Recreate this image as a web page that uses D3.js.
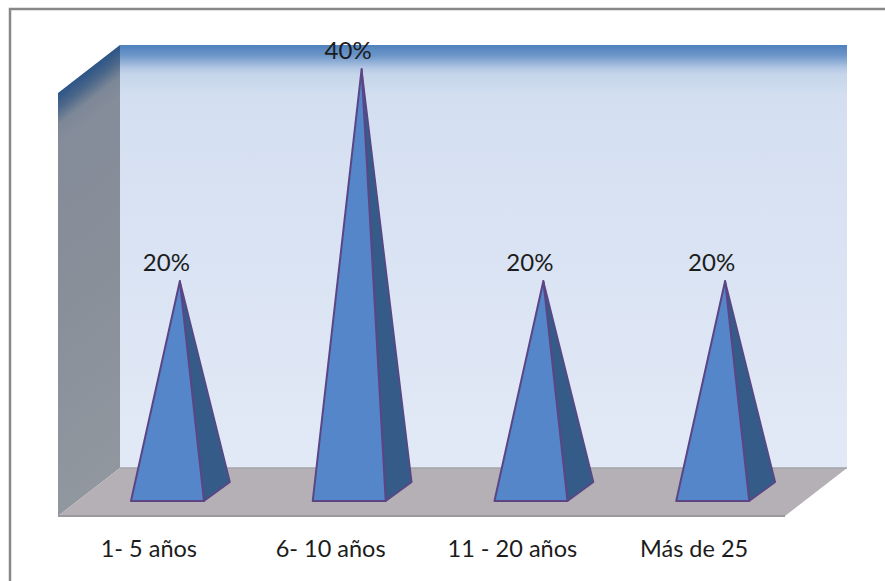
<!DOCTYPE html>
<html><head><meta charset="utf-8">
<script src="https://cdnjs.cloudflare.com/ajax/libs/d3/7.8.5/d3.min.js"></script>
<style>html,body{margin:0;padding:0;background:#fff}svg{display:block}text{font-family:Lato,"Open Sans",sans-serif;fill:#1c1c1c}</style>
</head><body><svg id="c" width="885" height="581"></svg>
<script>
const categories = ["1- 5 años","6- 10 años","11 - 20 años","Más de 25"];
const values = [20,40,20,20];
const valueLabels = ["20%","40%","20%","20%"];

const svg = d3.select("#c");
const W=885,H=581;
const fx0=58, fx1=785, fy=516, dx=62, dy=48;
const x = d3.scaleBand().domain(categories).range([fx0,fx1]);
const y = d3.scaleLinear().domain([0,40]).range([493,69]);
const baseW=73, baseOff=15, baseDx=26, baseDy=19;

const defs = svg.append("defs");
function grad(id,x1,y1,x2,y2,stops){
  const g=defs.append("linearGradient").attr("id",id).attr("gradientUnits","userSpaceOnUse")
    .attr("x1",x1).attr("y1",y1).attr("x2",x2).attr("y2",y2);
  stops.forEach(s=>g.append("stop").attr("offset",s[0]).attr("stop-color",s[1]));
}
grad("back",0,fy-dy-423,0,fy-dy,[[0,"#4f81bd"],[0.025,"#6d96c9"],[0.055,"#b4c8e4"],[0.07,"#c6d5ea"],[0.12,"#d3dff1"],[0.3,"#d7e1f2"],[1,"#e2e9f6"]]);
grad("left",58,93,262.6,357,[[0,"#2c5587"],[0.035,"#4a6689"],[0.075,"#7c8797"],[0.12,"#858c9a"],[0.5,"#888f99"],[1,"#90979f"]]);

const line=d3.line();
svg.append("rect").attr("x",10).attr("y",9).attr("width",W).attr("height",H)
  .attr("fill","#fff").attr("stroke","#888888").attr("stroke-width",2.5);

const backTop=45;
svg.append("path").attr("d",line([[fx0+dx,backTop],[fx1+dx,backTop],[fx1+dx,fy-dy],[fx0+dx,fy-dy]])+"Z").attr("fill","url(#back)");
svg.append("path").attr("d",line([[fx0,backTop+dy],[fx0+dx,backTop],[fx0+dx,fy-dy],[fx0,fy]])+"Z").attr("fill","url(#left)");
svg.append("path").attr("d",line([[fx0,fy],[fx0+dx,fy-dy],[fx1+dx,fy-dy],[fx1,fy]])+"Z").attr("fill","#b5b0b5");
svg.append("path").attr("d",line([[fx0+dx,fy-dy],[fx1+dx,fy-dy]])).attr("stroke","#a3a5a9").attr("stroke-width",1.5).attr("fill","none");
svg.append("path").attr("d",line([[fx0,fy],[fx1,fy]])).attr("stroke","#9a9a9a").attr("stroke-width",2).attr("fill","none");

const data = categories.map((c,i)=>({c,v:values[i],l:valueLabels[i]}));
const g = svg.selectAll("g.p").data(data).join("g").attr("class","p");
function geo(d){
  const cx=x(d.c)+x.bandwidth()/2+18.6;
  const l=cx-baseW/2,r=cx+baseW/2,b=fy-baseOff;
  return {l,r,b,ax:cx+baseDx/2-0.6,ay:y(d.v)};
}
g.append("path").attr("d",d=>{const p=geo(d);return line([[p.r,p.b],[p.r+baseDx,p.b-baseDy],[p.ax,p.ay]])+"Z";})
 .attr("fill","#355c89").attr("stroke","#5b4585").attr("stroke-width",1.6).attr("stroke-linejoin","round");
g.append("path").attr("d",d=>{const p=geo(d);return line([[p.l,p.b],[p.r,p.b],[p.ax,p.ay]])+"Z";})
 .attr("fill","#5486c9").attr("stroke","#5b4585").attr("stroke-width",2).attr("stroke-linejoin","round");

svg.selectAll("text.v").data(data).join("text").attr("class","v")
 .attr("x",d=>geo(d).ax-13.5).attr("y",d=>y(d.v)-10).attr("text-anchor","middle").attr("font-size",24).text(d=>d.l);
const axis = d3.axisBottom(x).tickSize(0).tickPadding(0);
const ax = svg.append("g").attr("transform",`translate(0,${fy})`).call(axis);
ax.select(".domain").remove();
ax.selectAll("text").attr("dy",0).attr("y",40.5).style("font-size","23.5px").style("font-family",'Lato,"Open Sans",sans-serif').style("fill","#1c1c1c");
</script></body></html>
